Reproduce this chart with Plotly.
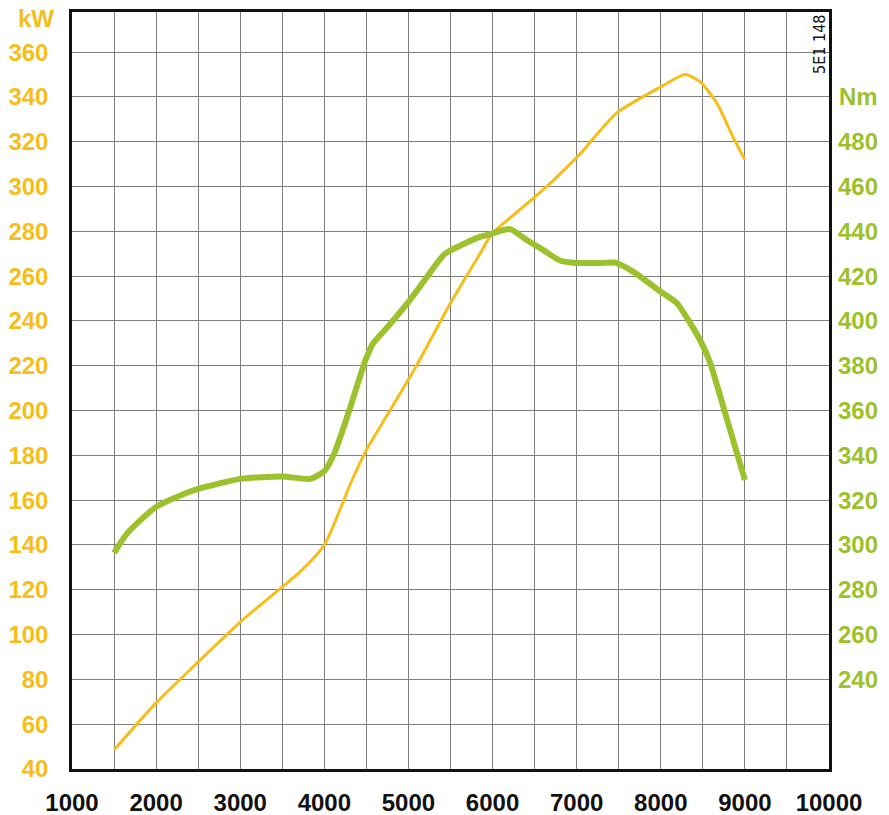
import plotly.graph_objects as go

# Engine speed (rpm) and power (kW)
power_rpm = [1500, 2000, 2500, 3000, 3500, 3710, 4000, 4330, 4500, 4780, 5080, 5340, 5500, 5850, 5994, 6208, 6600, 6840, 7076, 7280, 7480, 8000, 8290, 8470, 8670, 8860, 9000]
power_kw = [48.5, 69.5, 87.8, 105.6, 121.3, 128, 140, 169, 182.4, 200, 219, 237, 248, 270, 279, 286, 298.5, 307, 316, 325, 333, 344.5, 350, 346.7, 337, 322, 312]

# Engine speed (rpm) and torque (Nm)
torque_rpm = [1500, 1660, 2000, 2280, 2500, 3000, 3500, 3830, 4000, 4120, 4310, 4490, 4580, 4745, 5000, 5220, 5435, 5850, 5994, 6208, 6410, 6600, 6800, 6957, 7280, 7460, 7670, 8000, 8190, 8350, 8500, 8590, 8780, 9000]
torque_nm = [296.4, 305.4, 317, 322, 325, 329.5, 330.6, 329.5, 333, 341, 361.6, 382.6, 390, 397, 408.5, 419.6, 430, 437.5, 439, 441, 436, 431.7, 427, 426, 425.9, 426, 422, 413, 408, 399, 389, 381, 357, 329]

x_ticks = list(range(1000, 10001, 1000))
kw_ticks = list(range(40, 361, 20))
nm_ticks = list(range(240, 481, 20))

YELLOW = "#F5BE1B"
GREEN = "#9DC12C"
GRID = "#7E7E7E"
FONT = "Liberation Sans, Arial, sans-serif"

fig = go.Figure()
fig.add_trace(go.Scatter(x=power_rpm, y=power_kw, mode="lines",
                         line=dict(color=YELLOW, width=3, shape="spline", smoothing=0.6),
                         yaxis="y", showlegend=False, hoverinfo="skip"))
fig.add_trace(go.Scatter(x=torque_rpm, y=torque_nm, mode="lines",
                         line=dict(color=GREEN, width=6, shape="spline", smoothing=0.6),
                         yaxis="y2", showlegend=False, hoverinfo="skip"))

fig.update_layout(
    width=889, height=815,
    margin=dict(l=72, r=60, t=12, b=46),
    paper_bgcolor="white", plot_bgcolor="white",
    xaxis=dict(range=[1000, 10000], tickvals=x_ticks, ticktext=[str(v) for v in x_ticks],
               showgrid=True, gridcolor=GRID, gridwidth=1.3,
               minor=dict(dtick=500, tick0=1000, showgrid=True, gridcolor=GRID, gridwidth=1.3),
               showline=True, linecolor="#111", linewidth=2.5, mirror=True,
               ticks="", zeroline=False, ticklabelstandoff=10, automargin=False,
               tickfont=dict(family=FONT, size=24, color="#111", weight="bold")),
    yaxis=dict(range=[40, 377.9], tickvals=kw_ticks, ticktext=[str(v) for v in kw_ticks],
               showgrid=True, gridcolor=GRID, gridwidth=1.3,
               showline=True, linecolor="#111", linewidth=2.5, mirror=True,
               ticks="", zeroline=False, ticklabelstandoff=16, automargin=False,
               tickfont=dict(family=FONT, size=24, color=YELLOW, weight="bold")),
    yaxis2=dict(range=[200, 537.9], tickvals=nm_ticks, ticktext=[str(v) for v in nm_ticks],
                overlaying="y", side="right", showgrid=False, zeroline=False,
                ticks="", ticklabelstandoff=8, automargin=False,
                tickfont=dict(family=FONT, size=24, color=GREEN, weight="bold")),
    annotations=[
        dict(text="kW", xref="paper", yref="paper", x=-0.047, y=1.0, xanchor="center", yanchor="middle",
             yshift=-6, showarrow=False, font=dict(family=FONT, size=24, color=YELLOW, weight="bold")),
        dict(text="Nm", xref="paper", yref="y2", x=1.0, y=500, xanchor="left", yanchor="middle",
             xshift=8, showarrow=False, font=dict(family=FONT, size=24, color=GREEN, weight="bold")),
        dict(text="5E1 148", xref="paper", yref="paper", x=1.0, y=1.0, xanchor="right", yanchor="top",
             xshift=2, yshift=-1, textangle=-90, showarrow=False,
             font=dict(family="Liberation Sans Narrow, DejaVu Sans Condensed, sans-serif", size=16, color="#111")),
    ],
)

fig.write_html("out.html", config={"displayModeBar": False},
               post_script="document.body.style.margin='0';document.documentElement.style.overflow='hidden';")
